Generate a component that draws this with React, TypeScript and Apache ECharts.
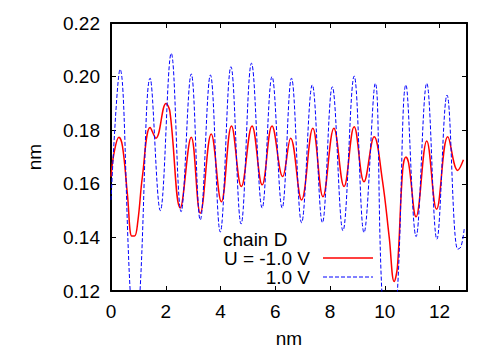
import React, { useEffect, useRef } from "react";
import * as echarts from "echarts";

const xTicks = [0, 2, 4, 6, 8, 10, 12];
const yTicks = [0.12, 0.14, 0.16, 0.18, 0.2, 0.22];

const redX = [0.0, 0.12, 0.29, 0.42, 0.6, 0.76, 0.86, 0.98, 1.15, 1.43, 1.64, 2.01, 2.15, 2.53, 2.93, 3.26, 3.66, 4.03, 4.4, 4.76, 5.15, 5.52, 5.88, 6.27, 6.56, 6.96, 7.37, 7.74, 8.14, 8.51, 8.88, 9.24, 9.61, 9.91, 10.16, 10.34, 10.46, 10.65, 10.77, 10.87, 11.14, 11.53, 11.89, 12.3, 12.66, 12.87];
const redY = [0.1627, 0.172, 0.1774, 0.174, 0.156, 0.1405, 0.1405, 0.146, 0.163, 0.181, 0.177, 0.19, 0.187, 0.151, 0.1774, 0.149, 0.1786, 0.1533, 0.1816, 0.159, 0.1816, 0.1596, 0.1816, 0.1627, 0.177, 0.154, 0.1807, 0.1552, 0.1807, 0.159, 0.1813, 0.1608, 0.1776, 0.1614, 0.14, 0.1235, 0.129, 0.165, 0.17, 0.1676, 0.1477, 0.176, 0.1505, 0.1776, 0.165, 0.169];

const blueX = [0.0, 0.33, 0.7, 0.88, 1.06, 1.43, 1.8, 2.2, 2.56, 2.93, 3.26, 3.63, 3.99, 4.38, 4.75, 5.13, 5.52, 5.88, 6.25, 6.59, 6.96, 7.35, 7.72, 8.08, 8.47, 8.88, 9.24, 9.65, 9.89, 10.17, 10.46, 10.77, 11.14, 11.53, 11.9, 12.27, 12.66, 12.78, 12.9];
const blueY = [0.154, 0.2027, 0.12, 0.1, 0.12, 0.1994, 0.15, 0.2087, 0.1496, 0.201, 0.1465, 0.2006, 0.142, 0.2037, 0.145, 0.205, 0.151, 0.2, 0.151, 0.1994, 0.1455, 0.1969, 0.1455, 0.1962, 0.1425, 0.2002, 0.1418, 0.1975, 0.12, 0.09, 0.12, 0.1969, 0.1403, 0.1975, 0.1393, 0.1931, 0.1356, 0.1365, 0.1434];

const keyTitle = "chain D";
const seriesNames = ["U = -1.0 V", "1.0 V"];

const FONT = '"Liberation Sans", Arial, Helvetica, sans-serif';
const FS = 19;

function mkLine() {
  return { show: true, onZero: false, lineStyle: { color: "#000", width: 2 } };
}
function mkTick() {
  return { show: true, inside: true, length: 5, lineStyle: { color: "#000", width: 1 } };
}

export default function App() {
  const ref = useRef<HTMLDivElement>(null);
  useEffect(() => {
    document.body.style.margin = "0";
    if (!ref.current) return;
    const chart = echarts.init(ref.current, null, { renderer: "svg" });
    const redData = redX.map((x, i) => [x, redY[i]]);
    const blueData = blueX.map((x, i) => [x, blueY[i]]);
    chart.setOption({
      animation: false,
      backgroundColor: "#fff",
      textStyle: { fontFamily: FONT },
      grid: { left: 111, right: 33, top: 23, bottom: 59, containLabel: false, outerBoundsMode: "none" },
      xAxis: [
        {
          type: "value",
          min: xTicks[0],
          max: 13,
          interval: 2,
          position: "bottom",
          splitLine: { show: false },
          axisLine: mkLine(),
          axisTick: mkTick(),
          name: "nm",
          nameLocation: "middle",
          nameGap: 38,
          nameTextStyle: { color: "#000", fontSize: FS, fontFamily: FONT },
          axisLabel: { show: true, color: "#000", fontSize: FS, fontFamily: FONT, margin: 11, showMaxLabel: false },
        },
        {
          type: "value",
          min: xTicks[0],
          max: 13,
          interval: 2,
          position: "top",
          splitLine: { show: false },
          axisLine: mkLine(),
          axisTick: mkTick(),
          axisLabel: { show: false },
        },
      ],
      yAxis: [
        {
          type: "value",
          min: yTicks[0],
          max: yTicks[yTicks.length - 1],
          interval: 0.02,
          position: "left",
          splitLine: { show: false },
          axisLine: mkLine(),
          axisTick: mkTick(),
          name: "nm",
          nameLocation: "middle",
          nameGap: 67,
          nameRotate: 90,
          nameTextStyle: { color: "#000", fontSize: FS, fontFamily: FONT },
          axisLabel: { show: true, color: "#000", fontSize: FS, fontFamily: FONT, margin: 11, formatter: (v: number) => v.toFixed(2) },
        },
        {
          type: "value",
          min: yTicks[0],
          max: yTicks[yTicks.length - 1],
          interval: 0.02,
          position: "right",
          splitLine: { show: false },
          axisLine: mkLine(),
          axisTick: mkTick(),
          axisLabel: { show: false },
        },
      ],
      series: [
        {
          name: seriesNames[0],
          type: "line",
          data: redData,
          smooth: 0.4,
          showSymbol: false,
          symbol: "none",
          clip: true,
          lineStyle: { color: "#ff0000", width: 1.5 },
        },
        {
          name: seriesNames[1],
          type: "line",
          data: blueData,
          smooth: 0.4,
          showSymbol: false,
          symbol: "none",
          clip: true,
          lineStyle: { color: "#0000ff", width: 1, type: [4, 2] },
        },
      ],
      graphic: [
        { type: "text", x: 223, y: 239, z: 20, style: { text: keyTitle, fill: "#000", font: `${FS}px ${FONT}`, verticalAlign: "middle", align: "left" } },
        { type: "text", x: 310, y: 258, z: 20, style: { text: seriesNames[0], fill: "#000", font: `${FS}px ${FONT}`, verticalAlign: "middle", align: "right" } },
        { type: "text", x: 310, y: 277, z: 20, style: { text: seriesNames[1], fill: "#000", font: `${FS}px ${FONT}`, verticalAlign: "middle", align: "right" } },
        { type: "line", z: 20, shape: { x1: 323, y1: 258, x2: 373, y2: 258 }, style: { stroke: "#ff0000", lineWidth: 1.5 } },
        { type: "line", z: 20, shape: { x1: 323, y1: 277, x2: 373, y2: 277 }, style: { stroke: "#0000ff", lineWidth: 1, lineDash: [4, 2] } },
      ],
    });
    return () => chart.dispose();
  }, []);
  return <div ref={ref} style={{ width: 500, height: 350 }} />;
}
